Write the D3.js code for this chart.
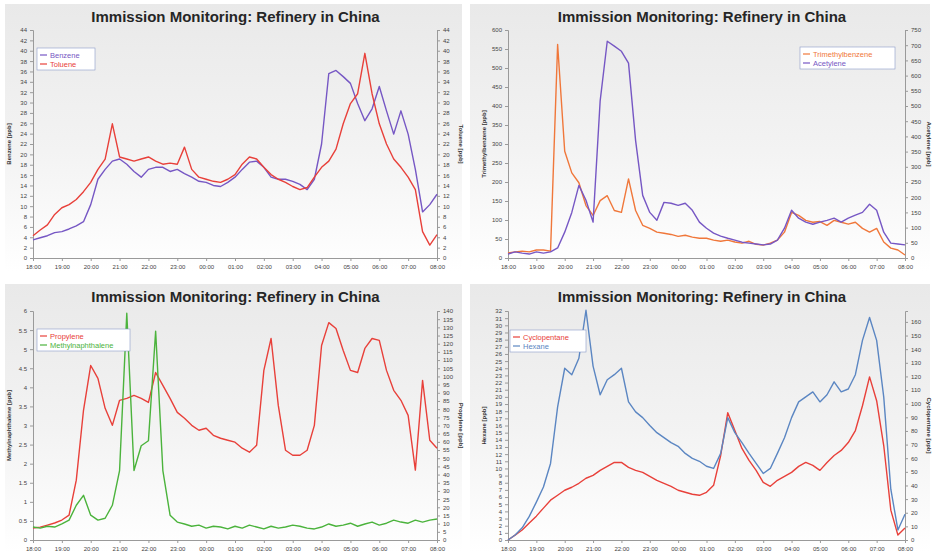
<!DOCTYPE html>
<html>
<head>
<meta charset="utf-8">
<script src="https://cdn.jsdelivr.net/npm/d3@7"></script>
<style>
  body { margin: 0; background: #fff; }
  svg { display: block; font-family: "Liberation Sans", Arial, sans-serif; }
</style>
</head>
<body>
<svg id="chart" width="933" height="556"></svg>
<script>
/* sampling: every 15 min from 18:00 to 08:00 */
const startTime = new Date(2012, 5, 1, 18, 0);
const endTime = new Date(2012, 5, 2, 8, 0);
const stepMinutes = 15;

/* top left */
const benzene = [3.5, 3.9, 4.3, 4.9, 5.1, 5.6, 6.2, 7.0, 10.3, 15.2, 17.1, 18.7, 19.1, 18.1, 16.7, 15.6,
  17.1, 17.5, 17.5, 16.7, 17.1, 16.3, 15.6, 14.8, 14.6, 14.0, 13.8, 14.6, 15.6, 17.1, 18.5, 18.7,
  17.5, 15.6, 15.2, 15.2, 14.8, 14.2, 13.2, 15.2, 22.0, 35.6, 36.2, 35.0, 33.7, 29.8, 26.5, 28.8,
  33.1, 28.4, 23.9, 28.4, 23.9, 17.1, 8.9, 10.3, 12.3];
const toluene = [4.3, 5.4, 6.4, 8.4, 9.7, 10.3, 11.3, 12.8, 14.6, 17.1, 19.1, 25.9, 19.5, 19.1, 18.7, 19.1,
  19.5, 18.7, 18.1, 18.3, 18.1, 21.4, 17.1, 15.6, 15.2, 14.8, 14.6, 15.2, 16.1, 18.1, 19.5, 19.1,
  17.5, 16.1, 15.2, 14.6, 13.8, 13.2, 13.6, 15.6, 17.5, 18.7, 21.0, 25.9, 29.8, 31.7, 39.5, 31.7,
  25.9, 22.0, 19.1, 17.5, 15.6, 13.2, 5.1, 2.5, 4.5];

/* top right */
const trimethylbenzene = [13, 16, 18, 16, 21, 21, 18, 562, 281, 224, 198, 138, 112, 151, 164, 125,
  120, 208, 125, 86, 78, 68, 65, 62, 57, 60, 55, 52, 52, 47, 44, 47,
  42, 39, 44, 36, 34, 39, 47, 68, 120, 112, 99, 94, 96, 86, 99, 94,
  89, 94, 78, 68, 78, 42, 26, 21, 8];
const acetylene = [13, 20, 16, 13, 20, 16, 20, 33, 85, 150, 239, 190, 118, 517, 713, 697,
  680, 641, 386, 206, 150, 124, 183, 180, 173, 180, 157, 118, 98, 82, 72, 65,
  59, 52, 49, 46, 43, 46, 59, 98, 157, 131, 118, 111, 118, 124, 131, 118,
  131, 141, 150, 177, 157, 85, 49, 46, 43];

/* bottom left */
const propylene = [7.3, 7.9, 9.1, 10.4, 12.2, 15.2, 36.6, 79.3, 106.7, 98.8, 80.5, 70.1, 85.4, 86.6, 88.4, 86.6,
  84.1, 102.4, 94.5, 86.6, 78.0, 74.4, 70.1, 67.1, 68.3, 64.0, 62.2, 61.0, 59.8, 56.1, 53.7, 57.9,
  103.7, 123.2, 82.3, 54.9, 51.8, 51.8, 54.9, 70.1, 118.9, 132.9, 129.3, 115.9, 103.7, 102.4, 117.1, 123.2,
  122.0, 103.7, 91.5, 85.4, 76.2, 42.7, 97.6, 61.0, 56.1];
const methylnaphthalene = [0.34, 0.31, 0.36, 0.34, 0.42, 0.52, 0.91, 1.17, 0.65, 0.52, 0.57, 0.91, 1.82, 5.94, 1.82, 2.47,
  2.6, 5.47, 1.82, 0.65, 0.47, 0.42, 0.36, 0.39, 0.31, 0.36, 0.34, 0.29, 0.36, 0.31, 0.39, 0.34,
  0.29, 0.36, 0.31, 0.34, 0.39, 0.36, 0.31, 0.29, 0.34, 0.42, 0.36, 0.39, 0.44, 0.36, 0.42, 0.47,
  0.39, 0.44, 0.52, 0.47, 0.44, 0.52, 0.47, 0.52, 0.55];

/* bottom right */
const cyclopentane = [0, 3.6, 7.3, 12.4, 17.5, 23.4, 29.2, 32.8, 36.5, 38.7, 41.6, 45.3, 47.4, 51.1, 54.0, 56.9,
  56.9, 53.3, 51.1, 49.6, 46.7, 43.8, 41.6, 39.4, 36.5, 35.0, 33.6, 32.8, 35.0, 40.1, 62.0, 93.4,
  80.3, 67.2, 58.4, 51.1, 42.3, 39.4, 43.8, 46.7, 49.6, 54.0, 56.9, 54.7, 51.1, 56.9, 62.0, 65.7,
  71.5, 80.3, 98.5, 119.7, 102.2, 69.3, 21.9, 3.6, 8.8];
const hexane = [0, 0.7, 1.7, 3.3, 5.3, 7.4, 10.7, 18.6, 24.0, 23.1, 25.4, 32.1, 24.3, 20.3, 22.4, 23.1,
  24.0, 19.3, 17.9, 17.1, 16.0, 15.0, 14.3, 13.6, 13.1, 12.1, 11.4, 11.0, 10.3, 10.0, 12.1, 17.1,
  15.0, 13.6, 12.1, 10.7, 9.3, 10.0, 12.1, 14.3, 17.1, 19.3, 20.0, 20.7, 19.3, 20.3, 22.1, 20.7,
  21.1, 23.1, 27.9, 31.1, 27.9, 20.0, 7.1, 1.4, 3.6];

const colors = {
  purple: '#7657c4',
  red: '#e8403a',
  orange: '#f0773a',
  green: '#4bb33c',
  blue: '#5b86c2',
};

const titleText = 'Immission Monitoring: Refinery in China';

const panels = [
  {
    box: [5, 4, 457, 268], plot: [33, 30, 437, 258],
    left: { label: 'Benzene [ppb]', max: 44, step: 2 },
    right: { label: 'Toluene [ppb]', max: 44, step: 2 },
    series: [
      { name: 'Benzene', values: benzene, color: colors.purple, axis: 'left' },
      { name: 'Toluene', values: toluene, color: colors.red, axis: 'right' },
    ],
    legend: [37, 48, 58],
  },
  {
    box: [470, 4, 460, 268], plot: [508, 30, 905, 258],
    left: { label: 'Trimethylbenzene [ppb]', max: 600, step: 50 },
    right: { label: 'Acetylene [ppb]', max: 750, step: 50 },
    series: [
      { name: 'Trimethylbenzene', values: trimethylbenzene, color: colors.orange, axis: 'left' },
      { name: 'Acetylene', values: acetylene, color: colors.purple, axis: 'right' },
    ],
    legend: [800, 47, 95],
  },
  {
    box: [5, 284, 457, 268], plot: [33, 311, 437, 540],
    left: { label: 'Methylnaphthalene [ppb]', max: 6, step: 0.5 },
    right: { label: 'Propylene [ppb]', max: 140, step: 5 },
    series: [
      { name: 'Propylene', values: propylene, color: colors.red, axis: 'right' },
      { name: 'Methylnaphthalene', values: methylnaphthalene, color: colors.green, axis: 'left' },
    ],
    legend: [37, 329, 93],
  },
  {
    box: [470, 284, 460, 268], plot: [508, 311, 905, 540],
    left: { label: 'Hexane [ppb]', max: 32, step: 1 },
    right: { label: 'Cyclopentane [ppb]', max: 168, step: 10 },
    series: [
      { name: 'Cyclopentane', values: cyclopentane, color: colors.red, axis: 'right' },
      { name: 'Hexane', values: hexane, color: colors.blue, axis: 'left' },
    ],
    legend: [510, 330, 76],
  },
];

const svg = d3.select('#chart');

const defs = svg.append('defs');
const grad = defs.append('linearGradient')
  .attr('id', 'bg').attr('x1', 0).attr('y1', 0).attr('x2', 0).attr('y2', 1);
grad.append('stop').attr('offset', '0%').attr('stop-color', '#e9e9e9');
grad.append('stop').attr('offset', '55%').attr('stop-color', '#f3f3f3');
grad.append('stop').attr('offset', '100%').attr('stop-color', '#ffffff');

const sampleTimes = (n) => d3.range(n).map((i) => d3.timeMinute.offset(startTime, i * stepMinutes));

panels.forEach((p) => {
  const g = svg.append('g');
  const [bx, by, bw, bh] = p.box;
  const [x0, y0, x1, y1] = p.plot;

  g.append('rect')
    .attr('x', bx).attr('y', by).attr('width', bw).attr('height', bh)
    .attr('fill', 'url(#bg)');

  g.append('text')
    .attr('x', bx + bw / 2 + 2).attr('y', by + 18)
    .attr('text-anchor', 'middle')
    .attr('font-size', 15).attr('font-weight', 'bold').attr('fill', '#262626')
    .text(titleText);

  const x = d3.scaleTime().domain([startTime, endTime]).range([x0, x1]);
  const yl = d3.scaleLinear().domain([0, p.left.max]).range([y1, y0]);
  const yr = d3.scaleLinear().domain([0, p.right.max]).range([y1, y0]);

  /* axes */
  const xAxis = d3.axisBottom(x).ticks(d3.timeHour.every(1))
    .tickFormat(d3.timeFormat('%H:%M')).tickSize(3);
  const gx = g.append('g').attr('transform', `translate(0,${y1})`).call(xAxis);

  const leftTicks = d3.range(0, p.left.max + 1e-9, p.left.step);
  const rightTicks = d3.range(0, p.right.max + 1e-9, p.right.step);
  const gl = g.append('g').attr('transform', `translate(${x0},0)`)
    .call(d3.axisLeft(yl).tickValues(leftTicks).tickSize(3).tickFormat(d3.format('~g')));
  const gr = g.append('g').attr('transform', `translate(${x1},0)`)
    .call(d3.axisRight(yr).tickValues(rightTicks).tickSize(3).tickFormat(d3.format('~g')));

  [gx, gl, gr].forEach((a) => {
    a.select('.domain').attr('stroke', '#9a9a9a');
    a.selectAll('.tick line').attr('stroke', '#9a9a9a');
    a.selectAll('.tick text').attr('font-size', 6).attr('fill', '#444')
      .attr('font-family', '"Liberation Sans", Arial, sans-serif');
  });
  gx.selectAll('.tick text').attr('dy', '0.9em');

  g.append('text')
    .attr('transform', `translate(${x0 - 22},${(y0 + y1) / 2}) rotate(-90)`)
    .attr('text-anchor', 'middle').attr('font-size', 6).attr('font-weight', 'bold').attr('fill', '#333')
    .text(p.left.label);
  g.append('text')
    .attr('transform', `translate(${x1 + 22},${(y0 + y1) / 2}) rotate(90)`)
    .attr('text-anchor', 'middle').attr('font-size', 6).attr('font-weight', 'bold').attr('fill', '#333')
    .text(p.right.label);

  /* series lines */
  p.series.forEach((s) => {
    const ys = s.axis === 'left' ? yl : yr;
    const times = sampleTimes(s.values.length);
    const line = d3.line()
      .x((d, i) => x(times[i]))
      .y((d) => ys(d));
    g.append('path')
      .datum(s.values)
      .attr('fill', 'none')
      .attr('stroke', s.color)
      .attr('stroke-width', 1.4)
      .attr('stroke-linejoin', 'round')
      .attr('d', line);
  });

  /* legend */
  const [lx, ly, lw] = p.legend;
  const lg = g.append('g').attr('transform', `translate(${lx},${ly})`);
  lg.append('rect').attr('width', lw).attr('height', 22)
    .attr('fill', '#fff').attr('stroke', '#8a9ac8').attr('stroke-width', 0.6);
  p.series.forEach((s, i) => {
    lg.append('line').attr('x1', 3).attr('x2', 10)
      .attr('y1', 7 + i * 9).attr('y2', 7 + i * 9)
      .attr('stroke', s.color).attr('stroke-width', 1.2);
    lg.append('text').attr('x', 13).attr('y', 9.5 + i * 9)
      .attr('font-size', 7.5).attr('fill', s.color)
      .text(s.name);
  });
});
</script>
</body>
</html>
